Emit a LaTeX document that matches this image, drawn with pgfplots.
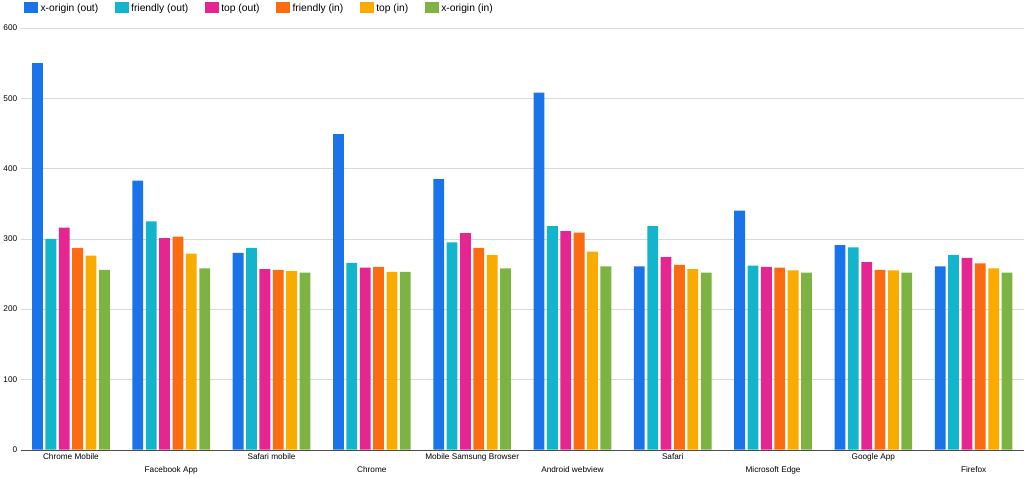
\documentclass[border=0pt]{standalone}
\usepackage{pgfplots}
\pgfplotsset{compat=1.18}
\usepackage{fontspec}
\setmainfont{Liberation Sans}
\definecolor{c1}{HTML}{1A73E8}
\definecolor{c2}{HTML}{12B5CB}
\definecolor{c3}{HTML}{E52592}
\definecolor{c4}{HTML}{FA6C0F}
\definecolor{c5}{HTML}{F9AB00}
\definecolor{c6}{HTML}{7CB342}
\begin{document}
\begin{tikzpicture}
\begin{axis}[
  scale only axis, width=975pt, height=410pt,
  ybar=2.5pt, bar width=10.5pt,
  xmin=-0.5, xmax=9.5, ymin=0, ymax=600,
  ytick={0,100,...,600},
  xtick={0,...,9},
  xticklabels={Chrome Mobile,{\strut\\Facebook App},Safari mobile,{\strut\\Chrome},Mobile Samsung Browser,{\strut\\Android webview},Safari,{\strut\\Microsoft Edge},Google App,{\strut\\Firefox}},
  xticklabel style={align=center,font=\fontsize{8}{11}\selectfont},
  yticklabel style={font=\fontsize{8}{10}\selectfont},
  /pgf/number format/assume math mode=true,
  ymajorgrids, grid style={gray!30},
  axis x line*=bottom, axis y line*=left,
  y axis line style={draw=none},
  x axis line style={black!70,-},
  major tick length=0pt,
  enlarge x limits=false,
  legend style={at={(0,1.025)},anchor=south west,draw=none,legend columns=-1,font=\fontsize{10}{12}\selectfont,/tikz/every even column/.append style={column sep=14pt}},
  legend image code/.code={\fill[#1,draw=none] (0pt,-4pt) rectangle (14pt,6pt);},
]
\addplot[fill=c1,draw=none] coordinates {(0,550)(1,383)(2,280)(3,449)(4,385)(5,508)(6,261)(7,340)(8,291)(9,261)};
\addplot[fill=c2,draw=none] coordinates {(0,300)(1,325)(2,287)(3,266)(4,295)(5,318)(6,318)(7,262)(8,288)(9,277)};
\addplot[fill=c3,draw=none] coordinates {(0,316)(1,301)(2,257)(3,259)(4,308)(5,311)(6,274)(7,260)(8,267)(9,273)};
\addplot[fill=c4,draw=none] coordinates {(0,287)(1,303)(2,256)(3,260)(4,287)(5,309)(6,263)(7,259)(8,256)(9,265)};
\addplot[fill=c5,draw=none] coordinates {(0,276)(1,279)(2,254)(3,253)(4,277)(5,282)(6,257)(7,255)(8,255)(9,258)};
\addplot[fill=c6,draw=none] coordinates {(0,256)(1,258)(2,252)(3,253)(4,258)(5,261)(6,252)(7,252)(8,252)(9,252)};
\legend{x-origin (out),friendly (out),top (out),friendly (in),top (in),x-origin (in)}
\end{axis}
\end{tikzpicture}
\end{document}
